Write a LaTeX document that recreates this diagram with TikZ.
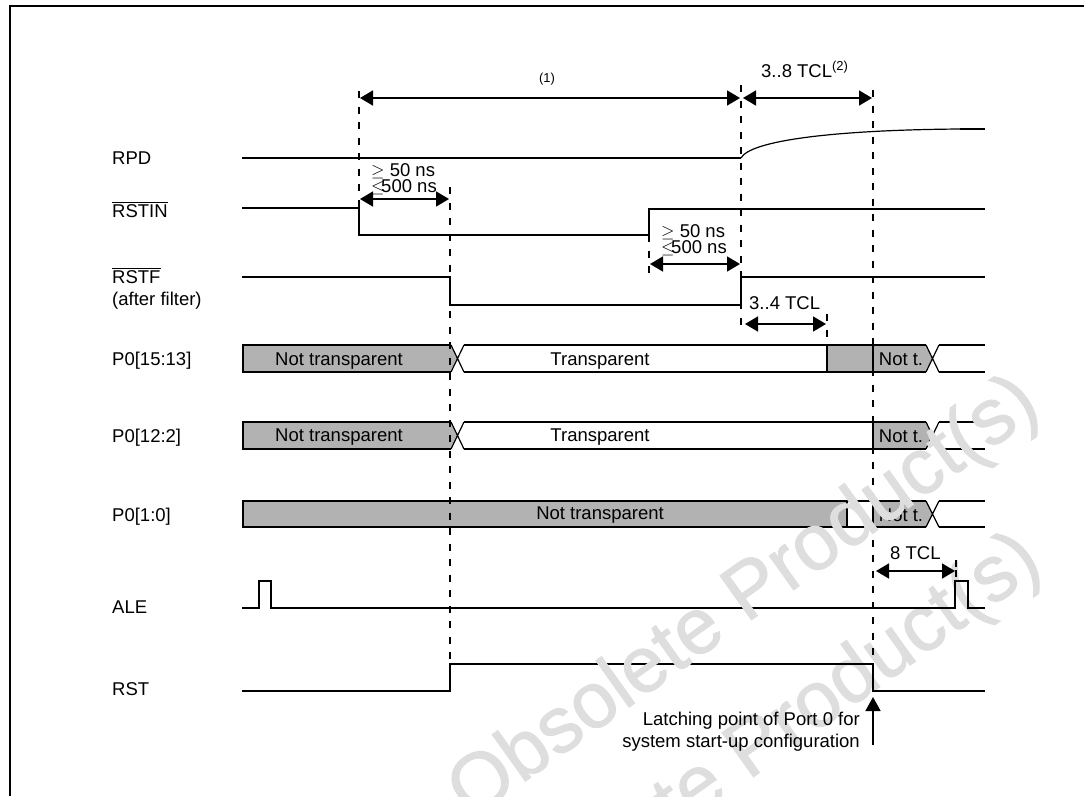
\documentclass[tikz,border=0pt]{standalone}
\usepackage{fontspec}
\setmainfont{Liberation Sans}
\newfontfamily\markfont[FakeBold=1.2]{Liberation Sans}
\usetikzlibrary{arrows.meta}
\definecolor{busgrey}{RGB}{178,178,178}
\definecolor{markgrey}{RGB}{222,222,222}
\newcommand{\barsig}[1]{$\overline{\mbox{#1}}$}
\newcommand{\buscross}[3]{\draw[crossline] (#1,#2) -- ++(13,#3-#2) (#1,#3) -- ++(13,#2-#3);}

\begin{document}
\begin{tikzpicture}[
      x=1pt, y=-1pt,
      sig/.style={line width=1.9pt},
      crossline/.style={line width=1.2pt},
      timing/.style={line width=1.8pt, dash pattern=on 7pt off 8.5pt},
      spanarrow/.style={{Triangle[length=13pt,width=15pt]}-{Triangle[length=13pt,width=15pt]},line width=1.7pt,shorten <=1pt,shorten >=1pt},
      signame/.style={font=\fontsize{18.5}{22}\selectfont, inner sep=0pt, anchor=base west},
      busname/.style={font=\fontsize{18.5}{22}\selectfont, inner sep=0pt, anchor=base},
      latch/.style={font=\fontsize{18.5}{22}\selectfont, inner sep=0pt, anchor=base east},
      watermark/.style={font=\markfont\fontsize{79}{84}\selectfont, text=markgrey, rotate=35.5, inner sep=0pt, anchor=base}
    ]
      \useasboundingbox (0,0) rectangle (1084,796);
      \clip (0,0) rectangle (1084,796);
      \draw[line width=2pt] (1084,6) -- (9.5,6) -- (9.5,796);

      % Lower watermark, under the drawing
      \node[watermark] (markdown) at (759,773) {Obsolete Product(s)};

      % Signal names
      \node[signame] (rpd) at (112,164) {RPD};
      \node[signame] (rstin) at (112,217) {\barsig{RSTIN}};
      \node[signame] (rstf) at (112,283) {\barsig{RSTF}};
      \node[signame] (filter) at (112,305) {(after filter)};
      \node[signame] (p15) at (112,365) {P0[15:13]};
      \node[signame] (p12) at (112,442) {P0[12:2]};
      \node[signame] (p1) at (112,521) {P0[1:0]};
      \node[signame] (ale) at (112,613) {ALE};
      \node[signame] (rst) at (112,695) {RST};

      % Plain waveforms
      \draw[sig] (242,158) -- (741,158);
      \draw[line width=1.2pt] (741,158) .. controls (750,141) and (830,130) .. (960,129);
      \draw[sig] (960,129) -- (985,129);
      \draw[sig] (242,208) -- (359,208) -- (359,235) -- (649,235) -- (649,209) -- (985,209);
      \draw[sig] (242,277) -- (450,277) -- (450,305) -- (741,305) -- (741,277) -- (985,277);
      \draw[sig] (242,608) -- (259,608) -- (259,581) -- (271,581) -- (271,608) -- (955,608) -- (955,581) -- (968,581) -- (968,608) -- (985,608);
      \draw[sig] (242,691) -- (450,691) -- (450,664) -- (873,664) -- (873,691) -- (985,691);

      % Bus rows
      \fill[busgrey] (243,345) -- (451,345) -- (457.5,358.5) -- (451,372) -- (243,372) -- cycle;
      \fill[busgrey] (243,422) -- (451,422) -- (457.5,435.5) -- (451,449) -- (243,449) -- cycle;
      \fill[busgrey] (243,501) rectangle (847,527);
      \fill[busgrey] (827,345) rectangle (873,372);
      \foreach \ytop/\ybot in {345/372,422/449,501/527} {
        \fill[busgrey] (873,\ytop) -- (926,\ytop) -- (932.5,\ytop/2+\ybot/2) -- (926,\ybot) -- (873,\ybot) -- cycle;
        \draw[sig] (243,\ybot) -- (243,\ytop) (873,\ybot) -- (873,\ytop);
        \draw[sig] (939,\ytop) -- (985,\ytop) (939,\ybot) -- (985,\ybot);
        \buscross{926}{\ytop}{\ybot}
      }
      \foreach \ytop/\ybot in {345/372,422/449} {
        \draw[sig] (242,\ytop) -- (451,\ytop) (464,\ytop) -- (926,\ytop);
        \draw[sig] (242,\ybot) -- (451,\ybot) (464,\ybot) -- (926,\ybot);
        \buscross{451}{\ytop}{\ybot}
      }
      \draw[sig] (242,501) -- (926,501) (242,527) -- (926,527);
      \draw[sig] (827,345) -- (827,372);
      \draw[sig] (847,501) -- (847,527);

      \node[busname] (opaque15) at (339,365) {Not transparent};
      \node[busname] (clear15) at (600,365) {Transparent};
      \node[busname] (nott15) at (901,365) {Not t.};
      \node[busname] (opaque12) at (339,441) {Not transparent};
      \node[busname] (clear12) at (600,441) {Transparent};
      \node[busname] (nott12) at (901,442) {Not t.};
      \node[busname] (opaque1) at (600,519) {Not transparent};
      \node[busname] (nott1) at (901,521) {Not t.};

      % Timing marks
      \draw[timing] (359,91) -- (359,208);
      \draw[timing] (450,187) -- (450,664);
      \draw[timing] (649,235) -- (649,273);
      \draw[timing] (741,85) -- (741,330);
      \draw[timing] (827,314) -- (827,345);
      \draw[timing] (873,90) -- (873,664);
      \draw[line width=1.6pt, dash pattern=on 7pt off 3pt] (956,560) -- (956,581);

      % Spans
      \coordinate (mainL) at (359,98);
      \coordinate (mainM) at (741,98);
      \coordinate (mainM2) at (742,98);
      \coordinate (mainR) at (873,98);
      \draw[spanarrow] (mainL) -- (mainM);
      \draw[spanarrow] (mainM2) -- (mainR);
      \node[font=\fontsize{13}{15}\selectfont, inner sep=0pt] (noteone) at (547,79) {(1)};
      \node[signame] (tclmax) at (761,77) {3..8 TCL\raisebox{6.5pt}{\fontsize{13}{15}\selectfont (2)}};

      \coordinate (pulseL) at (359,199);
      \coordinate (pulseR) at (450,199);
      \draw[spanarrow] (pulseL) -- (pulseR);
      \node[signame] (geone) at (371,176) {$\geq$ 50 ns};
      \node[signame] (leone) at (371,192) {$\leq$\hspace{-3.4pt}500 ns};

      \coordinate (gapL) at (649,264);
      \coordinate (gapR) at (741,264);
      \draw[spanarrow] (gapL) -- (gapR);
      \node[signame] (getwo) at (661,237) {$\geq$ 50 ns};
      \node[signame] (letwo) at (661,253) {$\leq$\hspace{-3.4pt}500 ns};

      \coordinate (shortL) at (744,324);
      \coordinate (shortR) at (827,324);
      \draw[spanarrow] (shortL) -- (shortR);
      \node[signame] (tclshort) at (749,309) {3..4 TCL};

      \coordinate (aleL) at (875,571);
      \coordinate (aleR) at (956,571);
      \draw[spanarrow] (aleL) -- (aleR);
      \node[signame] (tcleight) at (890,559) {8 TCL};

      % Latching point
      \coordinate (latchfoot) at (873,745);
      \coordinate (latchtip) at (873,697);
      \draw[-{Triangle[length=14pt,width=15pt]},line width=1.7pt] (latchfoot) -- (latchtip);
      \node[latch] (latchone) at (860,725) {Latching point of Port 0 for};
      \node[latch] (latchtwo) at (860,747) {system start-up configuration};

      % Upper watermark, over the drawing
      \node[watermark] (markup) at (757,616) {Obsolete Product(s)};
    \end{tikzpicture}
\end{document}
